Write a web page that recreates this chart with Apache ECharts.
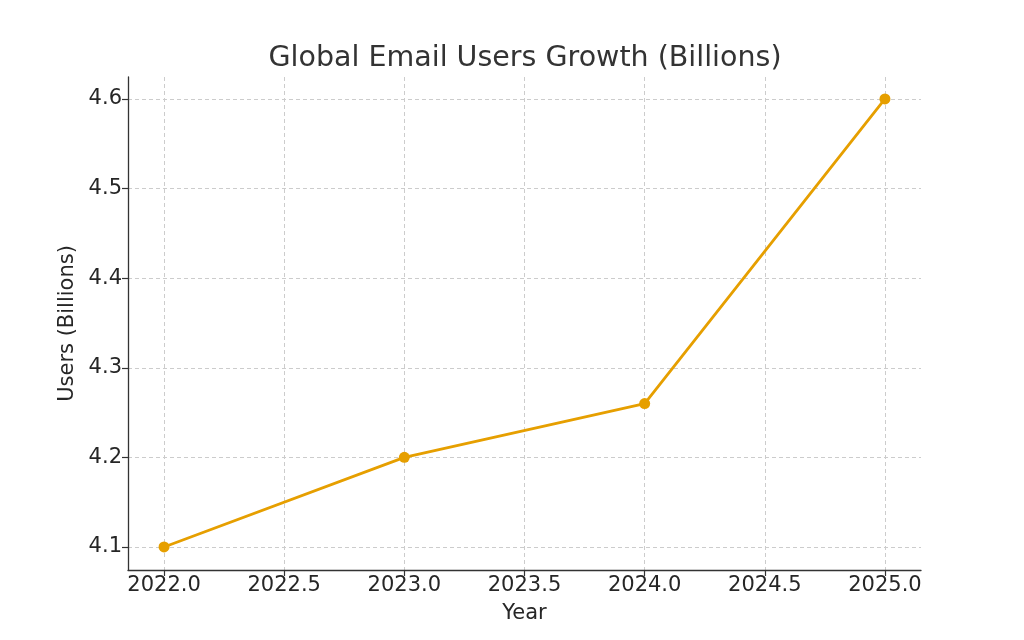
<!DOCTYPE html>
<html>
<head>
<meta charset="utf-8">
<script src="https://cdn.jsdelivr.net/npm/echarts@6/dist/echarts.min.js"></script>
<style>
html, body { margin: 0; padding: 0; background: #fff; }
#chart { width: 1024px; height: 640px; }
</style>
</head>
<body>
<div id="chart"></div>
<script>
// data
var years = [2022, 2023, 2024, 2025];
var users = [4.1, 4.2, 4.26, 4.6];
var xTicks = [2022.0, 2022.5, 2023.0, 2023.5, 2024.0, 2024.5, 2025.0];
var yTicks = [4.1, 4.2, 4.3, 4.4, 4.5, 4.6];

var font = 'DejaVu Sans';
var textColor = '#262626';
var gridColor = '#cccccc';
var lineColor = '#e69f00';

var points = years.map(function (y, i) { return [y, users[i]]; });

var chart = echarts.init(document.getElementById('chart'));
chart.setOption({
    animation: false,
    title: {
        text: 'Global Email Users Growth (Billions)',
        left: 520,
        textAlign: 'center',
        top: 39,
        textStyle: { fontFamily: font, fontSize: 28.5, fontWeight: 'normal', color: '#333333' }
    },
    grid: { left: 128, right: 103, top: 77, bottom: 70 },
    xAxis: {
        type: 'value',
        min: 2021.85,
        max: 2025.15,
        name: 'Year',
        nameLocation: 'middle',
        nameGap: 33,
        nameTextStyle: { fontFamily: font, fontSize: 21, color: textColor },
        axisLine: { show: true, lineStyle: { color: '#333333', width: 1.3 } },
        axisTick: { show: true, customValues: xTicks, length: 6, lineStyle: { color: '#333333', width: 1.2 } },
        axisLabel: {
            customValues: xTicks,
            fontFamily: font, fontSize: 21, color: textColor, margin: 5,
            formatter: function (v) { return v.toFixed(1); }
        },
        splitLine: { show: true, lineStyle: { color: gridColor, type: [4, 3], width: 1 } }
    },
    yAxis: {
        type: 'value',
        min: 4.0743,
        max: 4.6245,
        name: 'Users (Billions)',
        nameLocation: 'middle',
        nameGap: 45,
        nameRotate: 90,
        nameTextStyle: { fontFamily: font, fontSize: 21, color: textColor },
        axisLine: { show: true, lineStyle: { color: '#333333', width: 1.3 } },
        axisTick: { show: true, customValues: yTicks, length: 6, lineStyle: { color: '#333333', width: 1.2 } },
        axisLabel: {
            customValues: yTicks,
            fontFamily: font, fontSize: 21, color: textColor, margin: 6,
            padding: [4, 0, 0, 0],
            formatter: function (v) { return v.toFixed(1); }
        },
        splitLine: { show: true, lineStyle: { color: gridColor, type: [4, 3], width: 1 } }
    },
    series: [{
        type: 'line',
        data: points,
        symbol: 'circle',
        symbolSize: 11,
        lineStyle: { color: lineColor, width: 2.8 },
        itemStyle: { color: lineColor }
    }]
});
</script>
</body>
</html>
